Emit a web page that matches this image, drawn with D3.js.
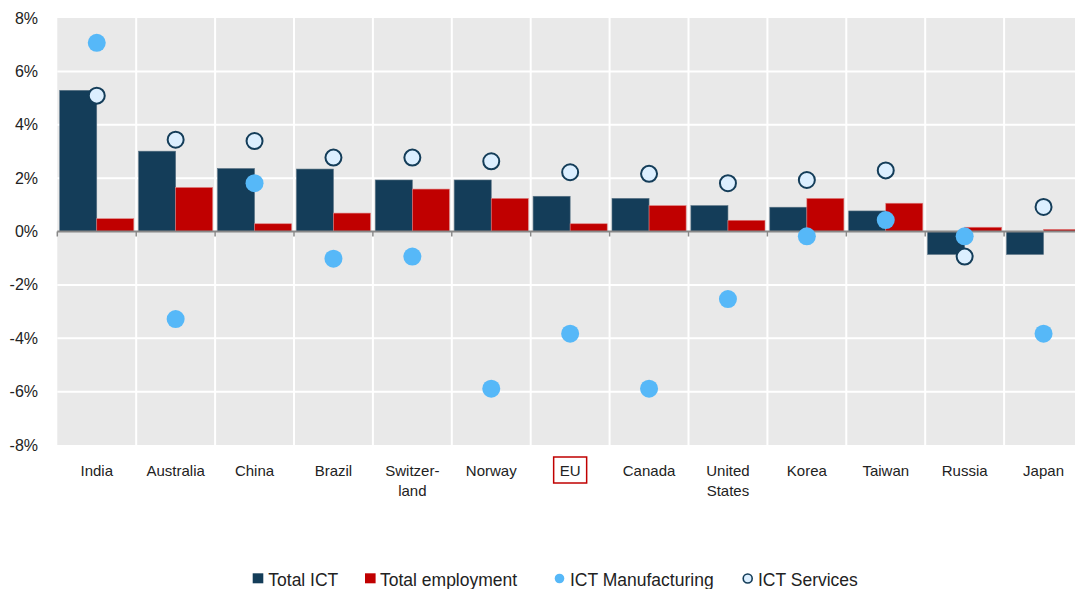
<!DOCTYPE html>
<html><head><meta charset="utf-8">
<script src="https://cdn.jsdelivr.net/npm/d3@7"></script>
<style>html,body{margin:0;padding:0;background:#fff;overflow:hidden}</style>
</head><body>
<svg id="c" width="1075" height="589"></svg>
<script>
const categories = ["India","Australia","China","Brazil","Switzer-\nland","Norway","EU","Canada","United\nStates","Korea","Taiwan","Russia","Japan"];
const totalICT =        [5.29, 3.01, 2.36, 2.34, 1.93, 1.93, 1.32, 1.24, 0.97, 0.91, 0.77, -0.86, -0.86];
const totalEmployment = [0.48, 1.65, 0.29, 0.69, 1.59, 1.24, 0.29, 0.97, 0.42, 1.24, 1.06, 0.16, 0.08];
const ictManufacturing =[7.07, -3.28, 1.81, -1.02, -0.94, -5.89, -3.83, -5.89, -2.53, -0.18, 0.43, -0.18, -3.83];
const ictServices =     [5.09, 3.44, 3.39, 2.77, 2.77, 2.63, 2.22, 2.16, 1.81, 1.93, 2.29, -0.94, 0.92];
const yTicks = [-8,-6,-4,-2,0,2,4,6,8];
const seriesNames = ["Total ICT","Total employment","ICT Manufacturing","ICT Services"];

const C = {dark:"#143d59", red:"#c00000", manu:"#56b8f8", servFill:"#dcefff", grid:"#e9e9e9"};
const font = "Liberation Sans, Arial, sans-serif";
const svg = d3.select("#c");
const L = 57.3, R = 1083, T = 18, B = 445;

const x = d3.scaleBand().domain(d3.range(categories.length)).range([L, R]).paddingInner(0).paddingOuter(0);
const inner = d3.scaleBand().domain([0,1]).range([0, x.bandwidth()]).paddingOuter(0.065).paddingInner(0);
const y = d3.scaleLinear().domain([-8, 8]).range([B, T]);

// background
svg.append("rect").attr("x", L).attr("y", T).attr("width", R - L).attr("height", B - T).attr("fill", C.grid);
// horizontal gridlines
svg.append("g").selectAll("line").data(yTicks.filter(d => d !== 0 && d !== 8 && d !== -8)).join("line")
  .attr("x1", L).attr("x2", R).attr("y1", d => y(d)).attr("y2", d => y(d))
  .attr("stroke", "#fff").attr("stroke-width", 2);
// vertical gridlines
svg.append("g").selectAll("line").data(d3.range(1, categories.length)).join("line")
  .attr("x1", d => x(d)).attr("x2", d => x(d)).attr("y1", T).attr("y2", B)
  .attr("stroke", "#fff").attr("stroke-width", 2);

// y axis labels
svg.append("g").selectAll("text").data(yTicks).join("text")
  .attr("x", 38).attr("y", d => y(d)).attr("dy", "0.35em").attr("text-anchor", "end")
  .attr("font-family", font).attr("font-size", 16).attr("fill", "#222")
  .text(d => d + "%");

// bars
const g = svg.append("g");
const barData = [];
categories.forEach((c, i) => {
  barData.push({i, k: 0, v: totalICT[i], col: C.dark});
  barData.push({i, k: 1, v: totalEmployment[i], col: C.red});
});
g.selectAll("rect").data(barData).join("rect")
  .attr("x", d => x(d.i) + inner(d.k))
  .attr("width", inner.bandwidth())
  .attr("y", d => y(Math.max(0, d.v)))
  .attr("height", d => Math.abs(y(d.v) - y(0)))
  .attr("fill", d => d.col)
  .attr("stroke", d => d.k === 0 ? "#5a7385" : "#e08080").attr("stroke-width", 0.6);

// zero axis line + ticks
svg.append("line").attr("x1", L).attr("x2", R).attr("y1", y(0)).attr("y2", y(0))
  .attr("stroke", "#888").attr("stroke-width", 2);
svg.append("g").selectAll("line").data(d3.range(0, categories.length + 1)).join("line")
  .attr("x1", d => d === categories.length ? R : x(d)).attr("x2", d => d === categories.length ? R : x(d))
  .attr("y1", y(0)).attr("y2", y(0) + 5).attr("stroke", "#888").attr("stroke-width", 1.5);

// points
const cx = i => x(i) + x.bandwidth() / 2;
svg.append("g").selectAll("circle").data(ictManufacturing).join("circle")
  .attr("cx", (d, i) => cx(i)).attr("cy", d => y(d)).attr("r", 9).attr("fill", C.manu);
svg.append("g").selectAll("circle").data(ictServices).join("circle")
  .attr("cx", (d, i) => cx(i)).attr("cy", d => y(d)).attr("r", 8).attr("fill", C.servFill)
  .attr("stroke", C.dark).attr("stroke-width", 2);

// category labels
const lab = svg.append("g");
categories.forEach((c, i) => {
  const lines = c.split("\n");
  const t = lab.append("text").attr("x", cx(i)).attr("y", 476).attr("text-anchor", "middle")
    .attr("font-family", font).attr("font-size", 15).attr("fill", "#222");
  lines.forEach((ln, j) => t.append("tspan").attr("x", cx(i)).attr("dy", j === 0 ? 0 : 19.5).text(ln));
  if (c === "EU") {
    lab.append("rect").attr("x", cx(i) - 16.5).attr("y", 457).attr("width", 33).attr("height", 26)
      .attr("fill", "none").attr("stroke", C.red).attr("stroke-width", 1.5);
  }
});

// legend
const lg = svg.append("g").attr("font-family", font).attr("font-size", 17.5).attr("fill", "#222");
const ly = 578.5;
lg.append("rect").attr("x", 252.7).attr("y", 573.3).attr("width", 10.6).attr("height", 10).attr("fill", C.dark);
lg.append("rect").attr("x", 365).attr("y", 573.3).attr("width", 10.6).attr("height", 10).attr("fill", C.red);
lg.append("circle").attr("cx", 559.5).attr("cy", ly).attr("r", 4.8).attr("fill", C.manu);
lg.append("circle").attr("cx", 747.7).attr("cy", ly).attr("r", 4.5).attr("fill", C.servFill).attr("stroke", C.dark).attr("stroke-width", 1.6);
const textX = [268.3, 380, 570, 758];
seriesNames.forEach((s, i) => lg.append("text").attr("x", textX[i]).attr("y", 585.5).text(s));
</script>
</body></html>
